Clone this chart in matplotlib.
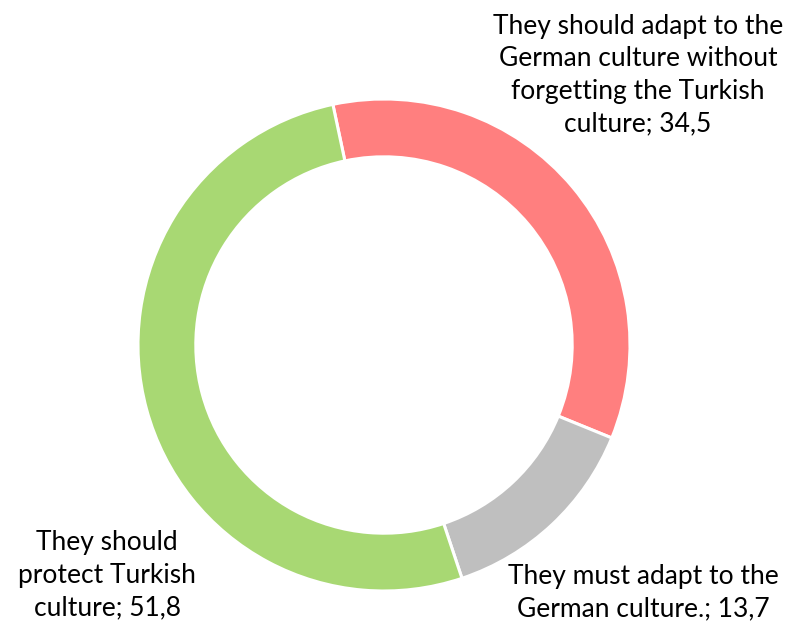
import matplotlib.pyplot as plt

# data
labels = ['They should adapt to the\nGerman culture without\nforgetting the Turkish\nculture; 34,5',
          'They must adapt to the\nGerman culture.; 13,7',
          'They should\nprotect Turkish\nculture; 51,8']
values = [34.5, 13.7, 51.8]
colors = ['#FF7F7F', '#BFBFBF', '#A8D873']

plt.rcParams['font.family'] = ['Lato', 'DejaVu Sans']

fig = plt.figure(figsize=(7.99, 6.29), dpi=100)
ax = fig.add_axes([138 / 799, 38 / 629, 492 / 799, 492 / 629])

ax.pie(values, colors=colors, startangle=102, counterclock=False, radius=1,
       wedgeprops=dict(width=0.235, edgecolor='white', linewidth=2.2))
ax.set_xlim(-1, 1)
ax.set_ylim(-1, 1)
ax.set_aspect('equal')
ax.axis('off')

# label positions (figure pixels)
pos = [(638, 75), (643, 593), (107, 575)]
for lab, (x, y) in zip(labels, pos):
    fig.text(x / 799, 1 - y / 629, lab, ha='center', va='center',
             fontsize=19, linespacing=1.38, color='#000000')

fig.savefig('out.png', dpi=100)
